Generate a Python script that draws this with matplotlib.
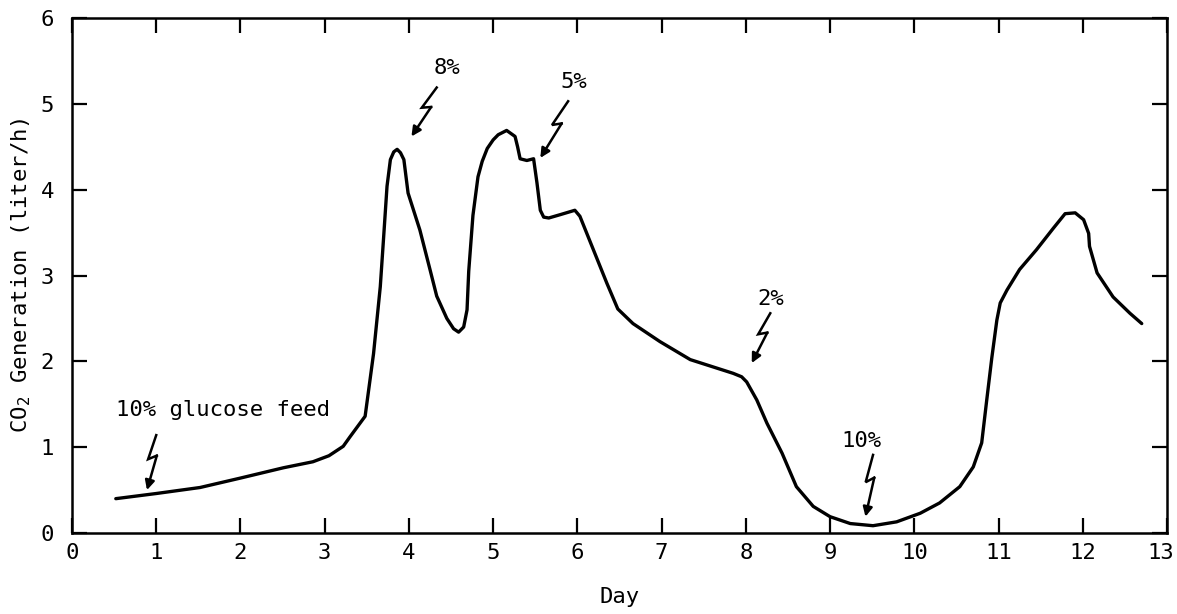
import numpy as np
import matplotlib
matplotlib.use('Agg')
from matplotlib import pyplot as plt
from matplotlib.transforms import ScaledTranslation

# Curve (day, CO2 liter/h)
day = [0.52, 1.0, 1.52, 2.0, 2.51, 2.86, 3.05, 3.22, 3.30, 3.48, 3.58, 3.66, 3.70, 3.74,
       3.78, 3.82, 3.86, 3.90, 3.94, 3.99, 4.13, 4.25, 4.33, 4.45, 4.53, 4.59, 4.65,
       4.69, 4.71, 4.76, 4.82, 4.87, 4.93, 5.00, 5.06, 5.16, 5.26, 5.29, 5.32, 5.40,
       5.48, 5.52, 5.56, 5.60, 5.66, 5.80, 5.97, 6.03, 6.19, 6.35, 6.48, 6.66, 6.98,
       7.34, 7.85, 7.95, 8.01, 8.13, 8.25, 8.43, 8.60, 8.80, 9.00, 9.24, 9.51, 9.79,
       10.07, 10.30, 10.54, 10.70, 10.80, 10.86, 10.92, 10.98, 11.02, 11.10, 11.25,
       11.45, 11.65, 11.79, 11.91, 12.01, 12.07, 12.08, 12.17, 12.36, 12.56, 12.70]
co2 = [0.40, 0.46, 0.53, 0.64, 0.76, 0.83, 0.90, 1.01, 1.12, 1.36, 2.09, 2.87, 3.45, 4.04,
       4.35, 4.44, 4.47, 4.43, 4.35, 3.96, 3.53, 3.07, 2.76, 2.50, 2.38, 2.34, 2.40,
       2.60, 3.05, 3.70, 4.15, 4.33, 4.48, 4.58, 4.64, 4.69, 4.62, 4.50, 4.36, 4.34,
       4.36, 4.08, 3.76, 3.68, 3.67, 3.71, 3.76, 3.69, 3.30, 2.91, 2.61, 2.44, 2.23,
       2.02, 1.86, 1.82, 1.76, 1.55, 1.28, 0.93, 0.54, 0.31, 0.19, 0.11, 0.085, 0.13,
       0.23, 0.35, 0.54, 0.77, 1.05, 1.55, 2.04, 2.48, 2.68, 2.83, 3.07,
       3.30, 3.55, 3.72, 3.73, 3.65, 3.49, 3.34, 3.03, 2.75, 2.56, 2.44]

# Feed change notes: label, label centre, bolt top, arrow tip
notes = ['10% glucose feed', '8%', '5%', '2%', '10%']
note_xy = [(1.79, 1.43), (4.45, 5.42), (5.96, 5.26), (8.29, 2.73), (9.37, 1.07)]
bolt_top = [(1.0, 1.14), (4.33, 5.19), (5.89, 5.03), (8.29, 2.56), (9.51, 0.91)]
bolt_tip = [(0.89, 0.50), (4.03, 4.62), (5.56, 4.37), (8.07, 1.98), (9.42, 0.19)]

xticks = list(range(0, 14))
yticks = list(range(0, 7))

plt.rcParams['font.family'] = ['DejaVu Sans Mono']
plt.rcParams['mathtext.fontset'] = 'custom'
plt.rcParams['mathtext.rm'] = 'DejaVu Sans Mono'
plt.rcParams['mathtext.default'] = 'rm'

fig = plt.figure(figsize=(11.77, 6.14), dpi=100)
ax = fig.add_axes([72/1177, 1-533/614, (1167-72)/1177, (533-18)/614])

ax.plot(day, co2, color='black', lw=2.4, solid_joinstyle='round', solid_capstyle='round')

ax.set_xlim(0, 13)
ax.set_ylim(0, 6)
ax.set_xticks(xticks)
ax.set_yticks(yticks)
for s in ax.spines.values():
    s.set_linewidth(1.8)
ax.tick_params(direction='in', length=11, width=1.6, top=True, right=True, labelsize=16)
ax.tick_params(axis='x', pad=7)
ax.tick_params(axis='y', pad=13)

# last x label sits a little inside the frame like the original
lab13 = ax.get_xticklabels()[-1]
lab13.set_transform(lab13.get_transform() + ScaledTranslation(-0.06, 0, fig.dpi_scale_trans))

ax.set_xlabel('Day', fontsize=16)
ax.xaxis.set_label_coords(0.5, -0.105)
ax.set_ylabel('CO$_2$ Generation (liter/h)', fontsize=16)
ax.yaxis.set_label_coords(-0.036, 0.5)

# lightning-bolt arrows
to_disp = ax.transData.transform
to_data = ax.transData.inverted().transform
for label, txy, top, tip in zip(notes, note_xy, bolt_top, bolt_tip):
    ax.text(txy[0], txy[1], label, fontsize=16, ha='center', va='center')
    p0 = to_disp(top)
    p3 = to_disp(tip)
    d = p3 - p0
    L = np.hypot(*d)
    u = d / L
    n = np.array([-u[1], u[0]])  # points to the right of a downward stroke
    z1 = p0 + 0.45 * L * u - 4 * n
    z2 = p0 + 0.36 * L * u + 4 * n
    pts = to_data(np.array([p0, z1, z2]))
    ax.plot(pts[:, 0], pts[:, 1], color='black', lw=1.8, solid_joinstyle='miter')
    ax.annotate('', xy=tip, xytext=tuple(pts[2]),
                arrowprops=dict(arrowstyle='-|>', color='black', lw=1.8,
                                mutation_scale=14, shrinkA=0, shrinkB=0))

fig.savefig('out.png', dpi=100)
